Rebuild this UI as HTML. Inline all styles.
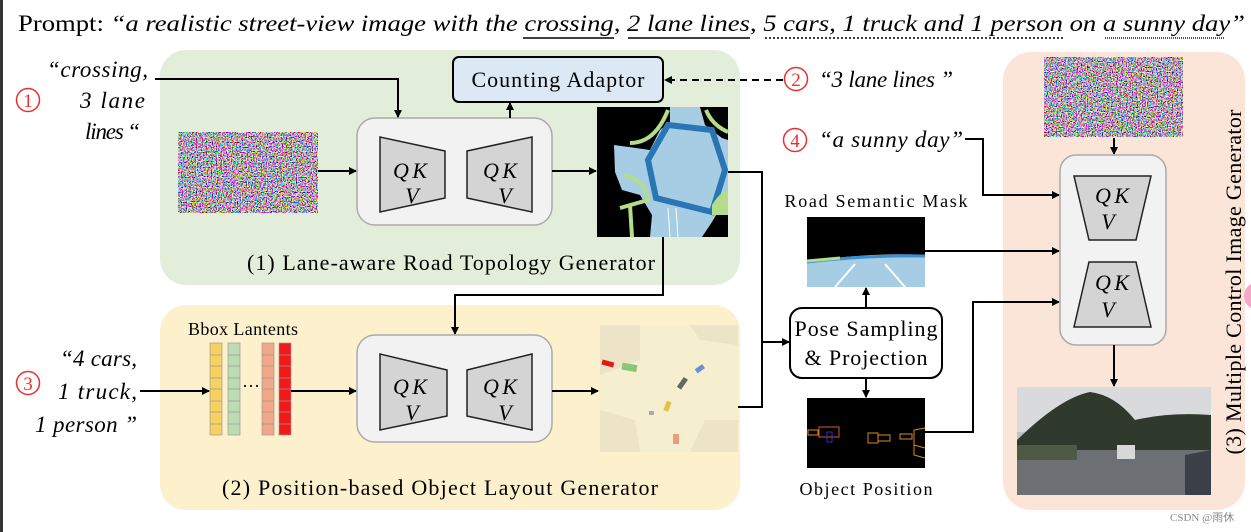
<!DOCTYPE html>
<html><head><meta charset="utf-8"><style>
html,body{margin:0;padding:0;background:#fff;}
svg{display:block;}
text{font-family:"Liberation Serif","Times New Roman",serif;}
.it{font-style:italic;}
</style></head><body>
<svg width="1251" height="532" viewBox="0 0 1251 532" xmlns="http://www.w3.org/2000/svg">
<defs>
<marker id="ah" markerWidth="8" markerHeight="8" refX="7" refY="4" orient="auto" markerUnits="userSpaceOnUse">
<path d="M0,0 L8,4 L0,8 z" fill="#000"/></marker>
<filter id="noise" x="0" y="0" width="100%" height="100%">
<feTurbulence type="fractalNoise" baseFrequency="0.8" numOctaves="1" seed="3"/>
<feColorMatrix type="matrix" values="4.5 0 0 0 -1.7  0 4.5 0 0 -1.8  0 0 4.5 0 -1.7  0 0 0 0 1"/>
</filter>
</defs>
<rect x="0" y="0" width="3" height="532" fill="#333"/>
<!-- prompt -->
<text x="18" y="31" font-size="23" textLength="1227" lengthAdjust="spacingAndGlyphs">Prompt: <tspan class="it">“a realistic street-view image with the crossing, 2 lane lines, 5 cars, 1 truck and 1 person on a sunny day”</tspan></text>
<line x1="523" y1="38" x2="614" y2="38" stroke="#000" stroke-width="1.5"/>
<line x1="628" y1="38" x2="750" y2="38" stroke="#000" stroke-width="1.5"/>
<line x1="765" y1="38" x2="1065" y2="38" stroke="#000" stroke-width="1.5" stroke-dasharray="2,2"/>
<line x1="1105" y1="38" x2="1225" y2="38" stroke="#555" stroke-width="2" stroke-dasharray="1,1"/>

<!-- panels -->
<rect x="160" y="50" width="580" height="235" rx="26" fill="#e2eed9"/>
<rect x="160" y="305" width="580" height="205" rx="26" fill="#fdf0cc"/>
<rect x="1003" y="52" width="242" height="458" rx="28" fill="#fbe5d9"/>
<circle cx="1258" cy="296" r="14" fill="#f4a8c8"/>

<!-- circled numbers -->
<g fill="none" stroke="#e83030" stroke-width="1.5">
<circle cx="28" cy="100" r="11.5"/><circle cx="28" cy="383" r="11.5"/>
<circle cx="796" cy="79" r="11.5"/><circle cx="795" cy="140" r="11.5"/>
</g>
<g fill="#e83030" font-size="19" text-anchor="middle">
<text x="28" y="107">1</text><text x="28" y="390">3</text><text x="796" y="86">2</text><text x="795" y="147">4</text>
</g>

<!-- left texts -->
<text class="it" font-size="23" text-anchor="end"><tspan x="148" y="77" textLength="101">“crossing,</tspan></text>
<text class="it" font-size="23" text-anchor="end"><tspan x="145" y="108" textLength="65">3 lane</tspan></text>
<text class="it" font-size="23" text-anchor="end"><tspan x="140" y="139" textLength="55">lines “</tspan></text>
<text class="it" font-size="23" text-anchor="end"><tspan x="137" y="366" textLength="77">“4 cars,</tspan></text>
<text class="it" font-size="23" text-anchor="end"><tspan x="137" y="399" textLength="79">1 truck,</tspan></text>
<text class="it" font-size="23" text-anchor="end"><tspan x="137" y="432" textLength="102">1 person ”</tspan></text>

<!-- noise 1 -->
<rect x="178" y="132" width="140" height="81" filter="url(#noise)"/>
<!-- unet 1 -->
<rect x="357" y="118" width="195" height="107" rx="18" fill="#f2f2f2" stroke="#aaa" stroke-width="1.5"/>
<path d="M380,137 L445,151 L445,198 L380,212 z" fill="#d4d4d4" stroke="#222" stroke-width="1.5"/>
<path d="M532,137 L467,151 L467,198 L532,212 z" fill="#d4d4d4" stroke="#222" stroke-width="1.5"/>
<g class="it" font-size="22" text-anchor="middle">
<text x="410" y="178" textLength="34">QK</text><text x="412" y="203">V</text>
<text x="500" y="178" textLength="34">QK</text><text x="505" y="203">V</text></g>

<!-- counting adaptor -->
<rect x="453" y="57" width="210" height="45" rx="6" fill="#dce9f5" stroke="#000" stroke-width="2"/>
<text x="558" y="87" font-size="22" text-anchor="middle" textLength="173">Counting Adaptor</text>
<line x1="510" y1="118" x2="510" y2="103" stroke="#000" stroke-width="2" marker-end="url(#ah)"/>
<line x1="783" y1="80" x2="665" y2="80" stroke="#000" stroke-width="2" stroke-dasharray="7,5" marker-end="url(#ah)"/>
<text class="it" x="819" y="87" font-size="23" textLength="134">“3 lane lines ”</text>

<!-- arrows panel1 -->
<polyline points="155,79 398,79 398,117" fill="none" stroke="#000" stroke-width="2" marker-end="url(#ah)"/>
<line x1="318" y1="171" x2="356" y2="171" stroke="#000" stroke-width="2" marker-end="url(#ah)"/>
<line x1="552" y1="171" x2="596" y2="171" stroke="#000" stroke-width="2" marker-end="url(#ah)"/>

<!-- road map -->
<g>
<rect x="597" y="107" width="131" height="130" fill="#000"/>
<path d="M670,107 L700,107 L705,125 L722,138 L728,140 L728,195 L712,222 L702,237 L650,237 L652,215 L640,195 L622,190 L615,172 L614,145 L650,150 L660,130 L670,122 z" fill="#a6cde3"/>
<path d="M668,125 L712,130 L725,170 L712,212 L656,198 L648,160 z" fill="none" stroke="#2a75b3" stroke-width="6"/>
<path d="M630,143 Q655,143 668,110" fill="none" stroke="#b3dd8a" stroke-width="4"/>
<path d="M706,110 Q712,125 728,132" fill="none" stroke="#b3dd8a" stroke-width="4"/>
<path d="M623,175 Q645,180 648,200 L620,208 M630,205 L632,237" fill="none" stroke="#b3dd8a" stroke-width="4"/>
<path d="M712,205 Q720,192 728,190 L728,215 L712,215 z" fill="#b3dd8a"/>
<path d="M668,208 L670,237 M676,208 L678,237" stroke="#fff" stroke-width="1"/>
</g>
<text x="451" y="270" font-size="22" text-anchor="middle" textLength="408">(1) Lane-aware Road Topology Generator</text>

<!-- map -> unet2 -->
<polyline points="663,237 663,295 455,295 455,334" fill="none" stroke="#000" stroke-width="2" marker-end="url(#ah)"/>

<!-- panel 2 -->
<text x="243" y="335" font-size="18" text-anchor="middle" textLength="110">Bbox Lantents</text>
<g stroke="#999" stroke-width="0.7">
<rect x="210" y="343" width="12" height="92" fill="#f7d160"/>
<rect x="228" y="343" width="12" height="92" fill="#bcdcb4"/>
<rect x="262" y="343" width="12" height="92" fill="#f0a888"/>
<rect x="279" y="343" width="12" height="92" fill="#f01818"/>
<path d="M210,355H222M210,366H222M210,378H222M210,389H222M210,401H222M210,412H222M210,424H222 M228,355H240M228,366H240M228,378H240M228,389H240M228,401H240M228,412H240M228,424H240 M262,355H274M262,366H274M262,378H274M262,389H274M262,401H274M262,412H274M262,424H274 M279,355H291M279,366H291M279,378H291M279,389H291M279,401H291M279,412H291M279,424H291"/>
</g>
<text x="251" y="392" font-size="18" text-anchor="middle">···</text>
<line x1="140" y1="391" x2="209" y2="391" stroke="#000" stroke-width="2" marker-end="url(#ah)"/>
<line x1="291" y1="391" x2="356" y2="391" stroke="#000" stroke-width="2" marker-end="url(#ah)"/>
<rect x="357" y="335" width="195" height="107" rx="18" fill="#f2f2f2" stroke="#aaa" stroke-width="1.5"/>
<path d="M380,354 L447,370 L447,416 L380,430 z" fill="#d4d4d4" stroke="#222" stroke-width="1.5"/>
<path d="M532,354 L467,370 L467,416 L532,430 z" fill="#d4d4d4" stroke="#222" stroke-width="1.5"/>
<g class="it" font-size="22" text-anchor="middle">
<text x="410" y="394" textLength="34">QK</text><text x="412" y="420">V</text>
<text x="500" y="394" textLength="34">QK</text><text x="505" y="420">V</text></g>
<line x1="552" y1="391" x2="598" y2="391" stroke="#000" stroke-width="2" marker-end="url(#ah)"/>
<!-- layout image -->
<g>
<rect x="600" y="325" width="138" height="127" fill="#ede3c6"/>
<path d="M640,325 L690,325 L700,340 L738,345 L738,420 L705,420 L690,452 L640,452 L635,420 L600,410 L600,375 L640,360 z" fill="#f5eecf"/>
<rect x="602" y="361" width="12" height="5" fill="#e21818" transform="rotate(15 608 363)"/>
<rect x="622" y="364" width="15" height="7" fill="#8cc47a" transform="rotate(10 630 367)"/>
<rect x="695" y="366" width="9" height="5" fill="#6e8fd0" transform="rotate(-35 700 368)"/>
<rect x="676" y="381" width="12" height="5" fill="#666" transform="rotate(-55 682 383)"/>
<rect x="662" y="404" width="10" height="5" fill="#e6c240" transform="rotate(-70 667 406)"/>
<rect x="673" y="434" width="6" height="10" fill="#e8a07a"/>
<rect x="649" y="411" width="5" height="4" fill="#aaa"/>
</g>
<text x="440" y="495" font-size="22" text-anchor="middle" textLength="436">(2) Position-based Object Layout Generator</text>

<!-- join to pose -->
<polyline points="728,172 762,172 762,407 738,407" fill="none" stroke="#000" stroke-width="2"/>
<line x1="762" y1="342" x2="789" y2="342" stroke="#000" stroke-width="2" marker-end="url(#ah)"/>

<!-- pose -->
<rect x="790" y="308" width="152" height="70" rx="12" fill="#fff" stroke="#000" stroke-width="2"/>
<text x="866" y="336" font-size="22" text-anchor="middle" textLength="143">Pose Sampling</text>
<text x="866" y="365" font-size="22" text-anchor="middle" textLength="123">&amp; Projection</text>
<text x="876" y="207" font-size="18" text-anchor="middle" textLength="183">Road Semantic Mask</text>
<rect x="807" y="217" width="118" height="70" fill="#000"/>
<path d="M807,262 Q866,252 925,255 L925,287 L807,287 z" fill="#a6cde3"/>
<path d="M807,262 Q866,255 925,256" fill="none" stroke="#3a8fd0" stroke-width="3"/>
<path d="M807,261 L840,258" stroke="#b3dd8a" stroke-width="3"/>
<path d="M855,264 L835,287 M885,264 L905,287" stroke="#fff" stroke-width="2"/>
<line x1="866" y1="308" x2="866" y2="288" stroke="#000" stroke-width="2" marker-end="url(#ah)"/>
<line x1="866" y1="378" x2="866" y2="397" stroke="#000" stroke-width="2" marker-end="url(#ah)"/>
<rect x="807" y="398" width="118" height="70" fill="#000"/>
<g fill="none" stroke-width="1">
<rect x="819" y="427" width="20" height="10" stroke="#e0503a"/>
<rect x="827" y="432" width="5" height="10" stroke="#2233cc"/>
<rect x="808" y="430" width="10" height="5" stroke="#d98a20"/>
<rect x="868" y="433" width="10" height="10" stroke="#d98a20"/>
<rect x="878" y="435" width="12" height="6" stroke="#d98a20"/>
<rect x="900" y="434" width="12" height="5" stroke="#d98a20"/>
<path d="M914,430 L925,428 M914,430 L914,455 L925,458 M914,445 L925,448" stroke="#d98a20"/>
</g>
<text x="866" y="495" font-size="18" text-anchor="middle" textLength="133">Object Position</text>

<!-- right inputs -->
<text class="it" x="819" y="147" font-size="23" textLength="144">“a sunny day”</text>
<polyline points="965,139 983,139 983,195 1059,195" fill="none" stroke="#000" stroke-width="2" marker-end="url(#ah)"/>
<line x1="925" y1="251" x2="1059" y2="251" stroke="#000" stroke-width="2" marker-end="url(#ah)"/>
<polyline points="925,432 973,432 973,302 1059,302" fill="none" stroke="#000" stroke-width="2" marker-end="url(#ah)"/>

<!-- panel 3 -->
<rect x="1044" y="57" width="139" height="80" filter="url(#noise)"/>
<line x1="1114" y1="138" x2="1114" y2="154" stroke="#000" stroke-width="2" marker-end="url(#ah)"/>
<rect x="1060" y="155" width="106" height="190" rx="16" fill="#f2f2f2" stroke="#aaa" stroke-width="1.5"/>
<path d="M1074,176 L1151,176 L1136,240 L1089,240 z" fill="#d4d4d4" stroke="#222" stroke-width="1.5"/>
<path d="M1089,262 L1136,262 L1151,327 L1074,327 z" fill="#d4d4d4" stroke="#222" stroke-width="1.5"/>
<g class="it" font-size="22" text-anchor="middle">
<text x="1112" y="203" textLength="34">QK</text><text x="1108" y="229">V</text>
<text x="1112" y="290" textLength="34">QK</text><text x="1108" y="317">V</text></g>
<line x1="1114" y1="345" x2="1114" y2="386" stroke="#000" stroke-width="2" marker-end="url(#ah)"/>
<!-- photo -->
<g>
<rect x="1017" y="387" width="194" height="108" fill="#bfc3c6"/>
<rect x="1017" y="387" width="194" height="45" fill="#d8dadc"/>
<path d="M1017,440 Q1060,398 1090,392 Q1115,395 1135,420 Q1170,412 1211,415 L1211,450 L1017,450 z" fill="#2f3a2c"/>
<rect x="1017" y="450" width="194" height="45" fill="#6c6f73"/>
<rect x="1017" y="445" width="60" height="15" fill="#4f5a44"/>
<rect x="1117" y="445" width="18" height="14" fill="#d8d8d8"/>
<path d="M1185,455 L1211,450 L1211,495 L1185,495 z" fill="#3a3f48"/>
</g>
<text transform="translate(1241,282) rotate(-90)" font-size="22" text-anchor="middle" textLength="345">(3) Multiple Control Image Generator</text>

<text x="1170" y="521" font-size="11" fill="#888" font-family="Liberation Sans,'Noto Sans CJK SC',sans-serif">CSDN @雨休</text>
</svg>
</body></html>
